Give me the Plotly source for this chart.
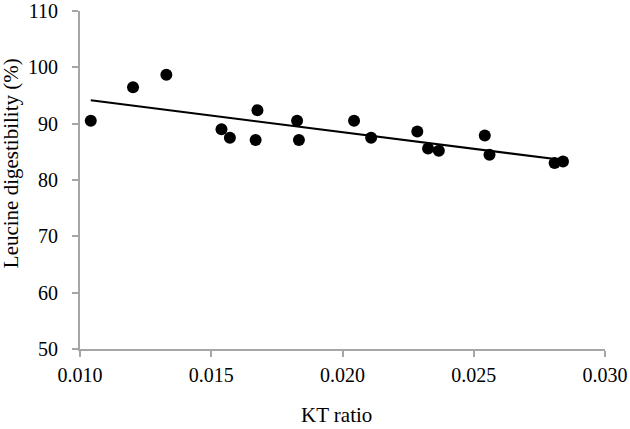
import numpy as np
import plotly.graph_objects as go

kt_ratio = [0.01041, 0.01202, 0.01329, 0.01539, 0.01571, 0.01669, 0.01676, 0.01827,
            0.01834, 0.02044, 0.02109, 0.02285, 0.02326, 0.02367, 0.02542, 0.02560,
            0.02808, 0.02840]
leu_digest = [90.5, 96.45, 98.7, 89.0, 87.5, 87.1, 92.4, 90.5,
              87.1, 90.5, 87.5, 88.6, 85.6, 85.2, 87.9, 84.5,
              83.0, 83.3]

x_ticks = [0.010, 0.015, 0.020, 0.025, 0.030]
x_tick_labels = ["0.010", "0.015", "0.020", "0.025", "0.030"]
y_ticks = [50, 60, 70, 80, 90, 100, 110]
x_title = "KT ratio"
y_title = "Leucine digestibility (%)"

slope, intercept = np.polyfit(kt_ratio, leu_digest, 1)
x_fit = [min(kt_ratio), max(kt_ratio)]
y_fit = [slope * v + intercept for v in x_fit]

fig = go.Figure()
fig.add_trace(go.Scatter(x=x_fit, y=y_fit, mode="lines",
                         line=dict(color="black", width=2), showlegend=False, hoverinfo="skip"))
fig.add_trace(go.Scatter(x=kt_ratio, y=leu_digest, mode="markers",
                         marker=dict(color="black", size=12), showlegend=False))

font_family = "Liberation Serif, Times New Roman, serif"
axis_common = dict(showgrid=False, zeroline=False, showline=True, linecolor="#a6a6a6",
                   linewidth=2, ticks="outside", tickcolor="#a6a6a6", ticklen=6, tickwidth=2,
                   automargin=False,
                   tickfont=dict(family=font_family, size=20, color="black"))

fig.update_layout(
    width=630, height=429,
    margin=dict(l=80, r=25, t=11, b=80, autoexpand=False),
    paper_bgcolor="white", plot_bgcolor="white",
    font=dict(family=font_family, size=20, color="black"),
    xaxis=dict(range=[0.010, 0.030], tickvals=x_ticks, ticktext=x_tick_labels,
               ticklabelstandoff=1, **axis_common),
    yaxis=dict(range=[50, 110], tickvals=y_ticks, ticklabelstandoff=10, **axis_common),
    annotations=[
        dict(text=x_title, xref="paper", yref="paper", x=0.488, y=-0.195,
             xanchor="center", yanchor="middle", showarrow=False,
             font=dict(family=font_family, size=21, color="black")),
        dict(text=y_title, xref="paper", yref="paper", x=-0.13, y=0.549,
             xanchor="center", yanchor="middle", textangle=-90, showarrow=False,
             font=dict(family=font_family, size=21, color="black")),
    ],
)

fig.write_html("out.html", config={"displayModeBar": False},
               post_script="document.body.style.margin='0';document.body.style.overflow='hidden';")
